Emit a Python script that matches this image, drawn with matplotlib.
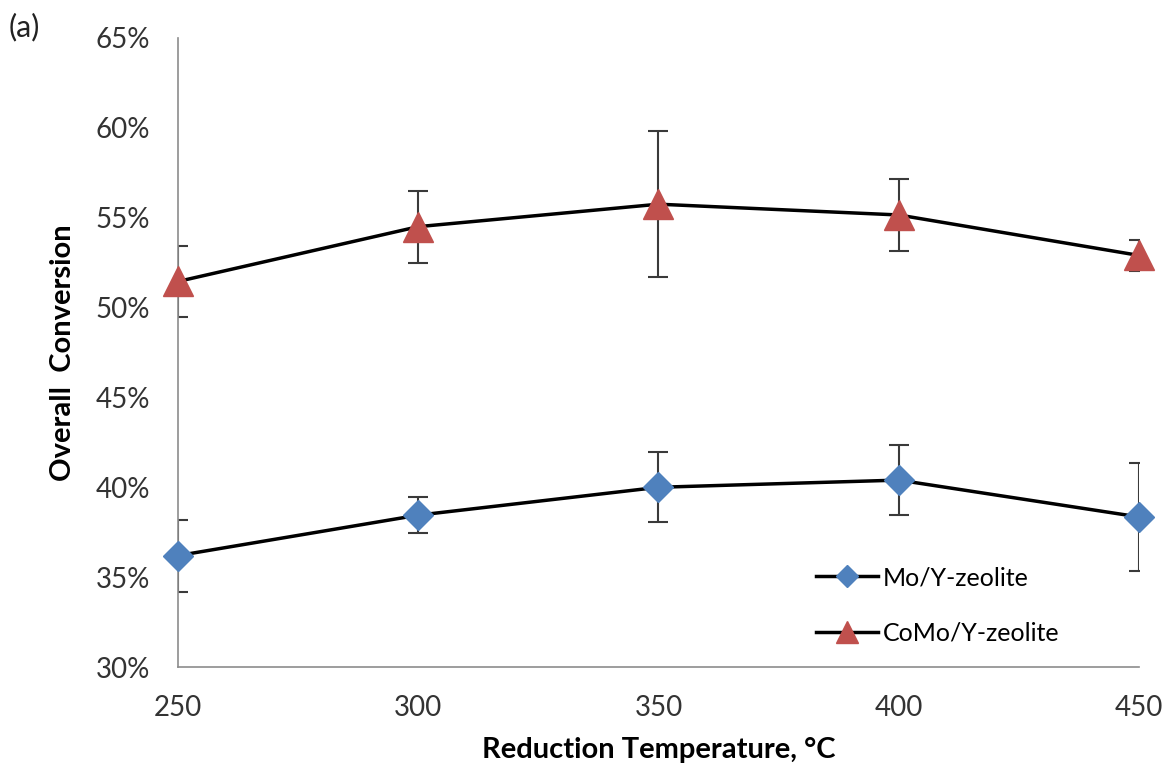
import matplotlib.pyplot as plt
from matplotlib.ticker import FuncFormatter

plt.rcParams['font.family'] = ['Lato', 'DejaVu Sans']

temps = [250, 300, 350, 400, 450]

mo_conv = [36.2, 38.45, 40.0, 40.4, 38.35]
mo_err = [2.0, 1.0, 1.95, 1.95, 3.0]

como_conv = [51.45, 54.5, 55.75, 55.15, 52.9]
como_err = [2.0, 2.0, 4.05, 2.0, 0.85]

fig = plt.figure(figsize=(11.67, 7.74), dpi=100)
ax = fig.add_axes([0.1525, 0.1382, 0.8235, 0.8128])

# error bars (clipped at the axes, like the original)
ax.errorbar(temps, mo_conv, yerr=mo_err, fmt='none', ecolor='#3a3a3a',
            elinewidth=1.5, capsize=7, capthick=1.5, zorder=2)
ax.errorbar(temps, como_conv, yerr=como_err, fmt='none', ecolor='#3a3a3a',
            elinewidth=1.5, capsize=7, capthick=1.5, zorder=2)

# lines + markers
ax.plot(temps, mo_conv, color='black', lw=2.5, marker='D', ms=15,
        markerfacecolor='#4F81BD', markeredgecolor='#4F81BD',
        label='Mo/Y-zeolite', clip_on=False, zorder=3)
ax.plot(temps, como_conv, color='black', lw=2.5, marker='^', ms=22,
        markerfacecolor='#C0504D', markeredgecolor='#C0504D',
        label='CoMo/Y-zeolite', clip_on=False, zorder=3)

ax.set_xlim(250, 450)
ax.set_ylim(30, 65)
ax.set_xticks(temps)
ax.set_yticks(range(30, 66, 5))
ax.yaxis.set_major_formatter(FuncFormatter(lambda v, p: f'{v:.0f}%'))
ax.tick_params(length=0, labelsize=20, colors='#333333', pad=20)

for s in ['top', 'right']:
    ax.spines[s].set_visible(False)
for s in ['left', 'bottom']:
    ax.spines[s].set_color('#8c8c8c')
    ax.spines[s].set_linewidth(1.2)

ax.set_xlabel('Reduction Temperature, °C', fontsize=21, fontweight='bold', labelpad=12)
ax.set_ylabel('Overall  Conversion', fontsize=21, fontweight='bold', labelpad=14)

ax.legend(loc='lower right', bbox_to_anchor=(0.941, 0.0), frameon=False,
          fontsize=18, handlelength=2.5, labelspacing=1.3, handletextpad=0.2,
          markerscale=0.75)

fig.text(0.007, 0.965, '(a)', fontsize=22, color='#222222', va='center')

fig.savefig('out.png', dpi=100)
